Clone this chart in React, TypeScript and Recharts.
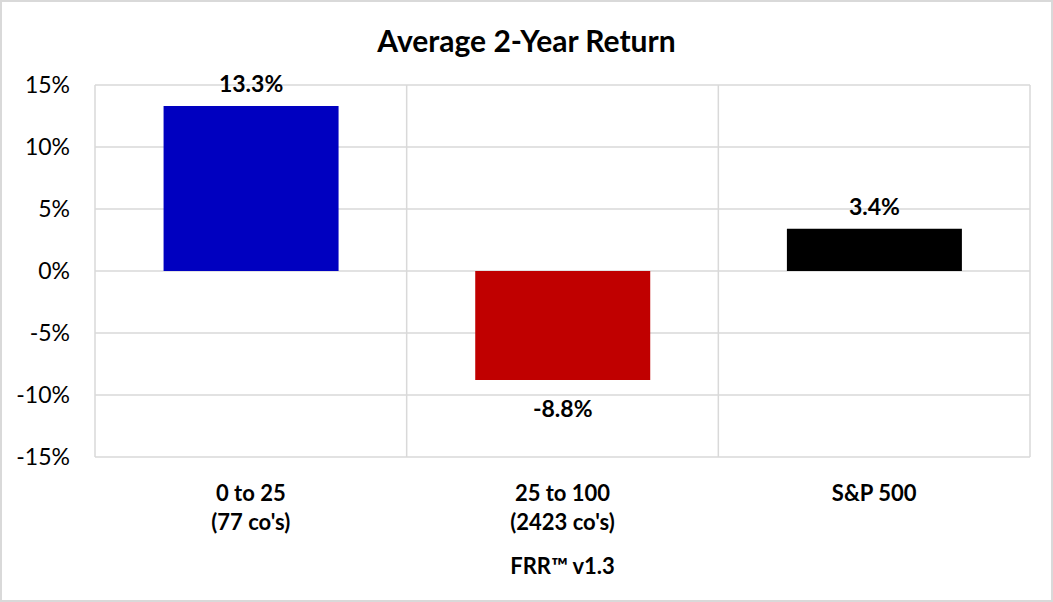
import { BarChart, Bar, XAxis, YAxis, CartesianGrid, Cell, LabelList } from 'recharts'

// категории, значения, цвета
const categories = ['0 to 25', '25 to 100', 'S&P 500']
const subLabels = ["(77 co's)", "(2423 co's)", '']
const returns = [13.3, -8.8, 3.4]
const barColors = ['#0000C0', '#C00000', '#000000']
const yTicks = [-15, -10, -5, 0, 5, 10, 15]

const data = categories.map((name, i) => ({ name, sub: subLabels[i], value: returns[i] }))

const FONT = 'Lato, "Open Sans", sans-serif'

function CategoryTick(props: any) {
  const { x, y, payload } = props
  const row = data.find((d) => d.name === payload.value)
  return (
    <g>
      <text x={x} y={y + 44} textAnchor="middle" fontFamily={FONT} fontSize={22} fontWeight={700} fill="#000">
        {payload.value}
      </text>
      {row && row.sub ? (
        <text x={x} y={y + 73} textAnchor="middle" fontFamily={FONT} fontSize={22} fontWeight={700} fill="#000">
          {row.sub}
        </text>
      ) : null}
    </g>
  )
}

function ValueLabel(props: any) {
  const { x, y, width, height, value } = props
  const top = Math.min(y, y + height)
  const bottom = Math.max(y, y + height)
  const cx = x + width / 2
  const ty = value >= 0 ? top - 14 : bottom + 37
  return (
    <text x={cx} y={ty} textAnchor="middle" fontFamily={FONT} fontSize={23} fontWeight={700} fill="#000">
      {value.toFixed(1)}%
    </text>
  )
}

export default function App() {
  return (
    <div style={{ position: 'absolute', left: 0, top: 0, width: 1053, height: 602, background: '#fff' }}>
      <div
        style={{
          position: 'absolute',
          left: 0,
          top: 20,
          width: 1053,
          textAlign: 'center',
          fontFamily: FONT,
          fontSize: 30,
          fontWeight: 700,
          lineHeight: '40px',
        }}
      >
        Average 2-Year Return
      </div>
      <div style={{ position: 'absolute', left: 0, top: 0 }}>
        <BarChart
          width={1053}
          height={602}
          data={data}
          margin={{ top: 85, right: 23, bottom: 23, left: 0 }}
          barCategoryGap="22%"
        >
          <CartesianGrid
            stroke="#D9D9D9"
            strokeWidth={1.5}
            verticalCoordinatesGenerator={({ offset }: any) => [
              offset.left,
              offset.left + offset.width / 3,
              offset.left + (offset.width * 2) / 3,
              offset.left + offset.width,
            ]}
          />
          <XAxis
            dataKey="name"
            axisLine={false}
            tickLine={false}
            tickSize={0}
            tickMargin={0}
            height={122}
            interval={0}
            tick={<CategoryTick />}
            label={{
              value: 'FRR™ v1.3',
              position: 'insideBottom',
              offset: 5,
              fontFamily: FONT,
              fontSize: 22,
              fontWeight: 700,
              fill: '#000',
            }}
          />
          <YAxis
            domain={[-15, 15]}
            ticks={yTicks}
            axisLine={false}
            tickLine={false}
            tickSize={0}
            tickMargin={25}
            width={95}
            tickFormatter={(v: number) => `${v}%`}
            tick={{ fontFamily: FONT, fontSize: 23, fill: '#000' }}
          />
          <Bar dataKey="value" isAnimationActive={false}>
            {data.map((d, i) => (
              <Cell key={d.name} fill={barColors[i]} />
            ))}
            <LabelList dataKey="value" content={<ValueLabel />} />
          </Bar>
        </BarChart>
      </div>
      <div
        style={{
          position: 'absolute',
          left: 0,
          top: 0,
          width: 1053,
          height: 602,
          boxSizing: 'border-box',
          border: '2px solid #D9D9D9',
          pointerEvents: 'none',
        }}
      />
    </div>
  )
}
